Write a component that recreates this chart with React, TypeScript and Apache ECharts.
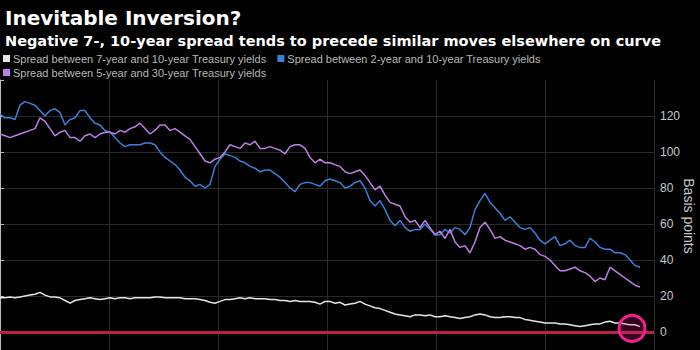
import React, { useEffect, useRef } from "react";
import * as echarts from "echarts";

const TITLE = "Inevitable Inversion?";
const SUBTITLE = "Negative 7-, 10-year spread tends to precede similar moves elsewhere on curve";
const Y_NAME = "Basis points";
const SERIES_NAMES = [
  "Spread between 7-year and 10-year Treasury yields",
  "Spread between 2-year and 10-year Treasury yields",
  "Spread between 5-year and 30-year Treasury yields",
];
const Y_TICKS = [0, 20, 40, 60, 80, 100, 120];

// Spread between 7-year and 10-year (basis points), evenly spaced observations
const spread7s10s = [
  19, 19, 19.5, 19, 19.5, 20, 20.5, 21, 22, 20.5, 19.5, 19.5, 19, 17.5, 16, 17.5, 18, 18.5, 19, 18.5,
  18, 18.5, 19, 18.5, 19, 19, 18.5, 19, 19, 19, 19, 19.5, 19.5, 19, 19, 19, 19, 18.5, 18.5, 18.5,
  18, 17.5, 16.5, 16, 17, 18, 18, 18.5, 19, 18.5, 19, 18.5, 18.5, 18.5, 18, 18, 17.5, 17.5, 17, 17.5,
  17, 17, 17, 16.5, 15.5, 17, 17, 16, 16.5, 15, 15.5, 16, 17, 15.5, 14.5, 13.5, 13, 12, 11, 10,
  9.5, 9, 8.5, 9.5, 9.5, 9, 9.5, 8.5, 8.5, 9, 8.5, 8, 7.5, 8, 8.5, 9.5, 10, 9.5, 8.5, 8,
  8, 8.5, 8.5, 8, 8, 7, 6.5, 6, 5.5, 5, 5, 5, 4.5, 4.5, 4, 3.5, 3, 3.5, 4, 4.5,
  4.5, 5.5, 6, 5, 5, 4.5, 4, 4, 3,
];

// Spread between 2-year and 10-year (basis points)
const spread2s10s = [
  121, 119, 119, 118, 126, 128, 127, 126, 123, 120, 123, 124, 122, 115, 118, 119, 123, 123, 119, 116,
  115, 112, 111, 108, 105, 103, 104, 104, 104, 105, 105, 104, 100, 97, 95, 93, 90, 86, 84, 81,
  82, 80, 82, 92, 96, 99, 98, 97, 95, 94, 92, 91, 89, 90, 90, 88, 86, 83, 80, 78,
  82, 83, 83, 82, 81, 84, 85, 84, 83, 80, 81, 83, 84, 80, 73, 70, 73, 68, 62, 59,
  62, 58, 56, 57, 57, 60, 57, 54, 54, 57, 55, 58, 57, 54, 58, 68, 73, 77, 72, 69,
  66, 62, 64, 61, 58, 57, 58, 55, 51, 49, 51, 53, 48, 49, 51, 48, 47, 47, 52, 50,
  47, 46, 46, 44, 44, 43, 40, 37, 36,
];

// Spread between 5-year and 30-year (basis points)
const spread5s30s = [
  110, 109, 108, 109, 110, 111, 112, 113, 119, 117, 113, 109, 111, 112, 108, 108, 106, 109, 110, 108,
  110, 111, 111, 110, 112, 111, 113, 114, 116, 113, 110, 112, 115, 115, 112, 113, 111, 109, 107, 103,
  99, 95, 94, 96, 97, 100, 104, 103, 102, 105, 104, 106, 102, 102, 103, 102, 101, 99, 103, 104,
  104, 102, 97, 94, 96, 94, 94, 93, 92, 89, 88, 89, 90, 87, 83, 79, 81, 76, 72, 71,
  70, 64, 61, 62, 58, 62, 58, 54, 56, 52, 57, 50, 47, 48, 44, 50, 58, 61, 57, 52,
  53, 51, 50, 49, 48, 46, 47, 46, 43, 42, 40, 37, 34, 34, 35, 36, 34, 33, 31, 28,
  30, 29, 36, 34, 32, 30, 28, 26, 25,
];

// Highlighted latest reading of the 7s10s spread: [observation index, value]
const HIGHLIGHT = [126.4, 2];

const COLORS = ["#e6e6e6", "#3b80d9", "#bd7fe6"];

export default function App() {
  const ref = useRef<HTMLDivElement>(null);

  useEffect(() => {
    if (!ref.current) return;
    const chart = echarts.init(ref.current, null, { renderer: "svg" });
    const xMax = 130.8;
    const toPairs = (arr: number[]) => arr.map((v, i) => [i, v]);
    const legendText = { color: "#b8b8b8", fontSize: 11, fontFamily: "Liberation Sans", padding: [0, 0, 0, -2] };

    chart.setOption({
      animation: false,
      backgroundColor: "#000",
      title: [
        {
          text: TITLE,
          left: 0,
          top: 3,
          textStyle: { color: "#fff", fontSize: 20, fontWeight: "bold", fontFamily: "DejaVu Sans" },
        },
        {
          text: SUBTITLE,
          left: 0,
          top: 28,
          textStyle: { color: "#fff", fontSize: 14.5, fontWeight: "bold", fontFamily: "DejaVu Sans" },
        },
      ],
      graphic: [
        {
          type: "text",
          x: 689,
          y: 216,
          rotation: -Math.PI / 2,
          silent: true,
          style: {
            text: Y_NAME,
            fill: "#c8c8c8",
            fontSize: 14,
            fontFamily: "Liberation Sans",
            align: "center",
            verticalAlign: "middle",
          },
        },
      ],
      legend: [
        {
          left: 3,
          top: 53,
          itemWidth: 7,
          itemHeight: 7,
          itemGap: 11,
          icon: "rect",
          padding: 0,
          data: [SERIES_NAMES[0], SERIES_NAMES[1]],
          textStyle: legendText,
        },
        {
          left: 3,
          top: 67,
          itemWidth: 7,
          itemHeight: 7,
          itemGap: 11,
          icon: "rect",
          padding: 0,
          data: [SERIES_NAMES[2]],
          textStyle: legendText,
        },
      ],
      grid: { left: 0, right: 46, top: 80, bottom: -18, containLabel: false, outerBoundsMode: "none" },
      xAxis: {
        type: "value",
        min: 0,
        max: xMax,
        interval: 21.8,
        axisLine: { show: false },
        axisTick: { show: false },
        axisLabel: { show: false },
        splitLine: { show: true, showMinLine: false, lineStyle: { color: "#2a2a2a", width: 1 } },
      },
      yAxis: {
        type: "value",
        position: "right",
        min: -20,
        max: 140,
        interval: 20,
        axisLine: { show: true, lineStyle: { color: "#bbbbbb", width: 1 } },
        axisTick: { show: true, inside: false, length: 4, lineStyle: { color: "#bbbbbb" } },
        axisLabel: {
          color: "#c8c8c8",
          fontSize: 12,
          fontFamily: "Liberation Sans",
          margin: 6,
          formatter: (v: number) => (Y_TICKS.indexOf(v) >= 0 ? String(v) : ""),
        },
        splitLine: {
          show: true,
          showMaxLine: false,
          lineStyle: { color: "#2a2a2a", width: 1 },
        },
      },
      series: [
        {
          name: SERIES_NAMES[0],
          type: "line",
          data: toPairs(spread7s10s),
          showSymbol: false,
          color: COLORS[0],
          lineStyle: { width: 1.5, color: COLORS[0] },
          z: 4,
          markLine: {
            silent: true,
            symbol: ["none", "none"],
            label: { show: false },
            lineStyle: { color: "#b8243f", width: 3, type: "solid" },
            data: [{ yAxis: 0 }],
          },
          markPoint: {
            silent: true,
            symbol: "circle",
            symbolSize: 26,
            label: { show: false },
            itemStyle: { color: "rgba(230,20,130,0.22)", borderColor: "#f0208c", borderWidth: 3 },
            data: [{ coord: HIGHLIGHT }],
          },
        },
        {
          name: SERIES_NAMES[1],
          type: "line",
          data: toPairs(spread2s10s),
          showSymbol: false,
          color: COLORS[1],
          lineStyle: { width: 1.5, color: COLORS[1] },
          z: 3,
        },
        {
          name: SERIES_NAMES[2],
          type: "line",
          data: toPairs(spread5s30s),
          showSymbol: false,
          color: COLORS[2],
          lineStyle: { width: 1.5, color: COLORS[2] },
          z: 3,
        },
      ],
    });
    return () => chart.dispose();
  }, []);

  return (
    <div
      ref={ref}
      style={{ position: "fixed", left: 0, top: 0, width: 700, height: 350, background: "#000" }}
    />
  );
}
